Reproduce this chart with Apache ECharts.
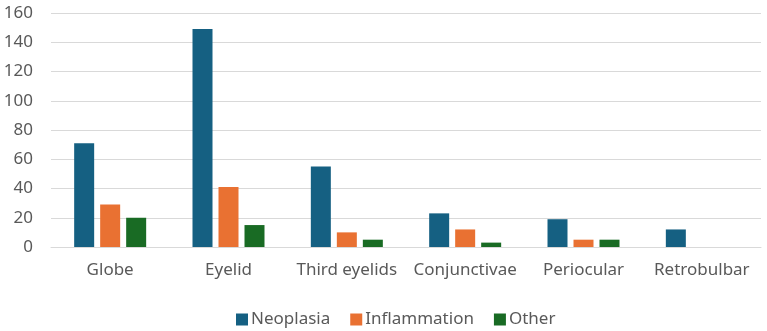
<!DOCTYPE html>
<html><head><meta charset="utf-8">
<script src="https://cdn.jsdelivr.net/npm/echarts@6/dist/echarts.min.js"></script>
<style>html,body{margin:0;padding:0;background:#fff}#c{width:767px;height:331px}</style>
</head><body><div id="c"></div>
<script>
const categories = ['Globe','Eyelid','Third eyelids','Conjunctivae','Periocular','Retrobulbar'];
const neoplasia = [71,149,55,23,19,12];
const inflammation = [29,41,10,12,5,0];
const other = [20,15,5,3,5,0];
const yTicks = {min:0,max:160,interval:20};
const font = 'Noto Sans';
const chart = echarts.init(document.getElementById('c'));
chart.setOption({
  animation:false,
  grid:{left:51,right:6,top:13,bottom:84},
  legend:{top:306,left:231,itemWidth:12,itemHeight:12,itemGap:20,icon:'rect',
    textStyle:{fontFamily:font,fontSize:17,color:'#595959',padding:[0,0,0,-2]}},
  xAxis:{type:'category',data:categories,
    axisLine:{lineStyle:{color:'#D9D9D9',width:1}},axisTick:{show:false},
    axisLabel:{fontFamily:font,fontSize:17,color:'#595959',margin:15,interval:0}},
  yAxis:{type:'value',min:yTicks.min,max:yTicks.max,interval:yTicks.interval,
    axisLine:{show:false},axisTick:{show:false},
    splitLine:{lineStyle:{color:'#D9D9D9',width:1}},
    axisLabel:{fontFamily:font,fontSize:17,color:'#595959',margin:18}},
  series:[
    {name:'Neoplasia',type:'bar',data:neoplasia,barWidth:20,barGap:'30%',itemStyle:{color:'#156082'}},
    {name:'Inflammation',type:'bar',data:inflammation,barWidth:20,barGap:'30%',itemStyle:{color:'#E97132'}},
    {name:'Other',type:'bar',data:other,barWidth:20,barGap:'30%',itemStyle:{color:'#196B24'}}
  ]
});
</script></body></html>
